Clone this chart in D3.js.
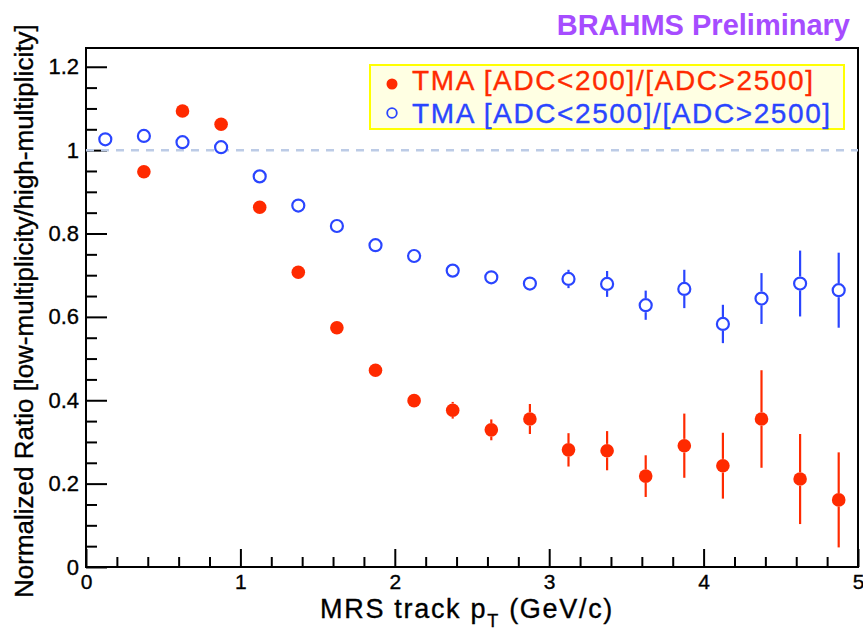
<!DOCTYPE html>
<html>
<head>
<meta charset="utf-8">
<script src="https://cdn.jsdelivr.net/npm/d3@7/dist/d3.min.js"></script>
<style>
  html, body { margin: 0; padding: 0; background: #fff; }
  svg { display: block; }
  text { font-family: "Liberation Sans", Arial, Helvetica, sans-serif; }
</style>
</head>
<body>
<svg id="chart" width="863" height="632"></svg>
<script>
// Bin centres of the MRS track pT histogram (GeV/c)
const ptBins = [0.125, 0.375, 0.625, 0.875, 1.125, 1.375, 1.625, 1.875, 2.125, 2.375,
                2.625, 2.875, 3.125, 3.375, 3.625, 3.875, 4.125, 4.375, 4.625, 4.875];

// TMA [ADC<200]/[ADC>2500] (no entry in the first bin)
const ratioLow200 = [null, 0.948, 1.094, 1.062, 0.863, 0.707, 0.574, 0.472, 0.399, 0.376,
                     0.329, 0.355, 0.281, 0.279, 0.218, 0.291, 0.243, 0.355, 0.211, 0.161];
const errLow200   = [null, 0.008, 0.009, 0.009, 0.008, 0.009, 0.010, 0.012, 0.015, 0.020,
                     0.025, 0.036, 0.040, 0.047, 0.050, 0.077, 0.079, 0.117, 0.108, 0.114];

// TMA [ADC<2500]/[ADC>2500]
const ratioLow2500 = [1.026, 1.034, 1.019, 1.007, 0.937, 0.867, 0.818, 0.772, 0.746, 0.711,
                      0.695, 0.680, 0.691, 0.679, 0.628, 0.667, 0.583, 0.644, 0.680, 0.664];
const errLow2500   = [0.006, 0.006, 0.006, 0.006, 0.007, 0.008, 0.009, 0.010, 0.010, 0.011,
                      0.012, 0.013, 0.022, 0.031, 0.035, 0.046, 0.046, 0.061, 0.079, 0.090];

const xTicks = [0, 1, 2, 3, 4, 5];
const yTicks = [0, 0.2, 0.4, 0.6, 0.8, 1, 1.2];
const seriesNames = ["TMA [ADC<200]/[ADC>2500]", "TMA [ADC<2500]/[ADC>2500]"];

const RED = "#ff2a00", BLUE = "#2a45ff";
const frame = { left: 86, right: 858, top: 48, bottom: 567 };

const svg = d3.select("#chart");
const x = d3.scaleLinear().domain([0, 5]).range([frame.left, frame.right]);
const y = d3.scaleLinear().domain([0, 1.245]).range([frame.bottom, frame.top]);

// Slightly heavier strokes on text to mimic the Helvetica rendering
function heavy(sel, color) {
  return sel.attr("stroke", color).attr("stroke-width", 0.35).attr("paint-order", "stroke");
}

// Title
svg.append("text")
  .attr("x", 850).attr("y", 35)
  .attr("text-anchor", "end")
  .attr("font-size", 29).attr("font-weight", "bold")
  .attr("fill", "#a64cff")
  .text("BRAHMS Preliminary");

// Minor ticks (inward)
const xMinor = d3.range(0, 5.0001, 0.2).filter(v => Math.abs(v - Math.round(v)) > 1e-6);
const yMinor = d3.range(0, 1.2001, 0.05).filter(v => Math.abs(v * 5 - Math.round(v * 5)) > 1e-6);

svg.append("g")
  .attr("transform", `translate(0,${frame.bottom})`)
  .call(d3.axisBottom(x).tickValues(xMinor).tickSize(-10).tickFormat(""))
  .call(g => g.select(".domain").remove())
  .selectAll("line").attr("stroke", "#000").attr("stroke-width", 2);

svg.append("g")
  .attr("transform", `translate(${frame.left},0)`)
  .call(d3.axisLeft(y).tickValues(yMinor).tickSize(-11).tickFormat(""))
  .call(g => g.select(".domain").remove())
  .selectAll("line").attr("stroke", "#000").attr("stroke-width", 2);

// Major ticks and labels
const xAxis = svg.append("g")
  .attr("transform", `translate(0,${frame.bottom})`)
  .call(d3.axisBottom(x).tickValues(xTicks).tickSize(-18).tickPadding(7)
        .tickFormat(d3.format("d")));
xAxis.select(".domain").remove();
xAxis.selectAll("line").attr("stroke", "#000").attr("stroke-width", 2);
heavy(xAxis.selectAll("text").attr("font-size", 21).attr("fill", "#000")
  .attr("font-family", "'Liberation Sans', Arial, sans-serif"), "#000");

const yAxis = svg.append("g")
  .attr("transform", `translate(${frame.left},0)`)
  .call(d3.axisLeft(y).tickValues(yTicks).tickSize(-21).tickPadding(7)
        .tickFormat(d => d3.format("~g")(d)));
yAxis.select(".domain").remove();
yAxis.selectAll("line").attr("stroke", "#000").attr("stroke-width", 2);
heavy(yAxis.selectAll("text").attr("font-size", 22).attr("fill", "#000")
  .attr("font-family", "'Liberation Sans', Arial, sans-serif"), "#000");

// Frame
svg.append("rect")
  .attr("x", frame.left).attr("y", frame.top)
  .attr("width", frame.right - frame.left).attr("height", frame.bottom - frame.top)
  .attr("fill", "none").attr("stroke", "#000").attr("stroke-width", 2);

// Reference line at unity
svg.append("line")
  .attr("x1", x(0)).attr("x2", x(5))
  .attr("y1", y(1)).attr("y2", y(1))
  .attr("stroke", "#bccbe6").attr("stroke-width", 2.5)
  .attr("stroke-dasharray", "8,7");

// Error bars drawn outside the marker, then markers
function drawSeries(vals, errs, color, filled, r) {
  const pts = ptBins.map((p, i) => ({ p, v: vals[i], e: errs[i] })).filter(d => d.v != null);
  const g = svg.append("g");
  pts.forEach(d => {
    const cy = y(d.v), top = y(d.v + d.e), bot = y(d.v - d.e);
    if (cy - top > r) {
      g.append("line").attr("x1", x(d.p)).attr("x2", x(d.p))
        .attr("y1", top).attr("y2", cy - r)
        .attr("stroke", color).attr("stroke-width", 2.2);
      g.append("line").attr("x1", x(d.p)).attr("x2", x(d.p))
        .attr("y1", cy + r).attr("y2", bot)
        .attr("stroke", color).attr("stroke-width", 2.2);
    }
  });
  g.selectAll("circle").data(pts).join("circle")
    .attr("cx", d => x(d.p)).attr("cy", d => y(d.v))
    .attr("r", filled ? r : r - 1)
    .attr("fill", filled ? color : "#fff")
    .attr("stroke", filled ? "none" : color)
    .attr("stroke-width", filled ? 0 : 2.2);
}
drawSeries(ratioLow2500, errLow2500, BLUE, false, 7);
drawSeries(ratioLow200, errLow200, RED, true, 6.8);

// Legend
const leg = svg.append("g");
leg.append("rect")
  .attr("x", 370).attr("y", 65).attr("width", 474).attr("height", 64)
  .attr("fill", "#ffffe3").attr("stroke", "#ffff00").attr("stroke-width", 2);
leg.append("circle").attr("cx", 392).attr("cy", 84).attr("r", 5.5).attr("fill", RED);
leg.append("circle").attr("cx", 392).attr("cy", 113).attr("r", 4.8)
  .attr("fill", "none").attr("stroke", BLUE).attr("stroke-width", 1.8);
heavy(leg.append("text").attr("x", 412).attr("y", 90)
  .attr("font-size", 28).attr("letter-spacing", 1.6).attr("fill", RED)
  .text(seriesNames[0]), RED);
heavy(leg.append("text").attr("x", 412).attr("y", 123)
  .attr("font-size", 28).attr("letter-spacing", 1.6).attr("fill", BLUE)
  .text(seriesNames[1]), BLUE);

// Axis titles
const xt = svg.append("text")
  .attr("x", 320).attr("y", 618)
  .attr("font-size", 27).attr("letter-spacing", 1.7).attr("fill", "#000");
heavy(xt, "#000");
xt.append("tspan").text("MRS track p");
xt.append("tspan").attr("font-size", 18).attr("dy", 9).text("T");
xt.append("tspan").attr("dy", -9).text(" (GeV/c)");

heavy(svg.append("text")
  .attr("transform", "translate(33,598) rotate(-90)")
  .attr("font-size", 26).attr("fill", "#000")
  .text("Normalized Ratio [low-multiplicity/high-multiplicity]"), "#000");
</script>
</body>
</html>
